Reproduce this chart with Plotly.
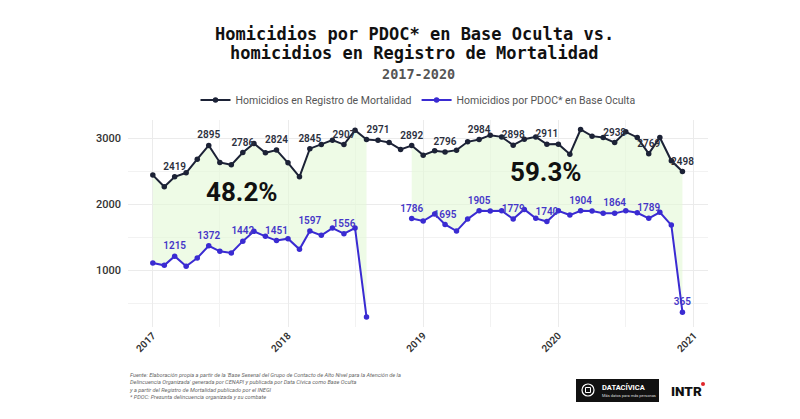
import plotly.graph_objects as go
import pandas as pd

# ---------------- data ----------------
months = pd.date_range("2017-01-01", "2020-12-01", freq="MS")

registro = [2444, 2267, 2419, 2479, 2686, 2895, 2636, 2600, 2786, 2924, 2782, 2824,
            2630, 2418, 2845, 2909, 2974, 2907, 3126, 2985, 2971, 2939, 2833, 2892,
            2747, 2812, 2796, 2823, 2949, 2984, 3050, 3024, 2898, 2989, 3024, 2911,
            2914, 2762, 3136, 3035, 3015, 2938, 3100, 3015, 2769, 3015, 2661, 2498]

base_oculta = [1111, 1076, 1215, 1061, 1186, 1372, 1288, 1262, 1442, 1591, 1515, 1451,
               1480, 1318, 1597, 1530, 1641, 1556, 1641, 290, None, None, None, 1786,
               1747, 1853, 1695, 1595, 1777, 1905, 1898, 1903, 1779, 1924, 1788, 1740,
               1903, 1838, 1904, 1898, 1864, 1864, 1903, 1873, 1789, 1879, 1686, 365]

registro_label_idx = [2, 5, 8, 11, 14, 17, 20, 23, 26, 29, 32, 35, 41, 44, 47]
oculta_label_idx = [2, 5, 8, 11, 14, 17, 23, 26, 29, 32, 35, 38, 41, 44, 47]

segments = [(0, 19), (23, 47)]
pct_labels = ["48.2%", "59.3%"]
pct_pos = [("2017-08-29", 2190), ("2019-11-28", 2494)]

year_ticks = ["2017-01-01", "2018-01-01", "2019-01-01", "2020-01-01", "2021-01-01"]
year_labels = ["2017", "2018", "2019", "2020", "2021"]

title_1 = "Homicidios por PDOC* en Base Oculta vs."
title_2 = "homicidios en Registro de Mortalidad"
subtitle = "2017-2020"
caption = ("Fuente: Elaboración propia a partir de la 'Base Sexenal del Grupo de Contacto de Alto Nivel para la Atención de la<br>"
           "Delincuencia Organizada' generada por CENAPI y publicada por Data Cívica como Base Oculta<br>"
           "y a partir del Registro de Mortalidad publicado por el INEGI<br>"
           "* PDOC: Presunta delincuencia organizada y su combate")

# ---------------- style ----------------
C_DARK = "#1c2236"
C_BLUE = "#3a2bd2"
C_BLUE_TXT = "#4536c8"
C_FILL = "rgba(226,248,214,0.6)"
FONT = "Roboto"
MONO = "DejaVu Sans Mono"

fig = go.Figure()

# shaded ribbons between the two series
for a, b in segments:
    xs = list(months[a:b + 1]) + list(months[a:b + 1])[::-1]
    ys = registro[a:b + 1] + base_oculta[a:b + 1][::-1]
    fig.add_trace(go.Scatter(x=xs, y=ys, fill="toself", fillcolor=C_FILL,
                             line=dict(width=0), mode="lines", showlegend=False,
                             hoverinfo="skip"))

reg_text = [str(v) if i in registro_label_idx else "" for i, v in enumerate(registro)]
ocu_text = [str(v) if (i in oculta_label_idx and v is not None) else "" for i, v in enumerate(base_oculta)]

fig.add_trace(go.Scatter(
    x=months, y=registro, name="Homicidios en Registro de Mortalidad",
    mode="lines+markers+text", text=reg_text, textposition="top center",
    textfont=dict(family=FONT, size=10, color="#2b2f3d", weight=600),
    line=dict(color=C_DARK, width=2), marker=dict(color=C_DARK, size=5.5),
    cliponaxis=False))

fig.add_trace(go.Scatter(
    x=months, y=base_oculta, name="Homicidios por PDOC* en Base Oculta",
    mode="lines+markers+text", text=ocu_text, textposition="top center",
    textfont=dict(family=FONT, size=10, color=C_BLUE_TXT, weight=600),
    line=dict(color=C_BLUE, width=2), marker=dict(color=C_BLUE, size=5.5),
    connectgaps=False, cliponaxis=False))

annotations = []
for txt, (xv, yv) in zip(pct_labels, pct_pos):
    annotations.append(dict(x=xv, y=yv, xref="x", yref="y", text=txt, showarrow=False,
                            xanchor="center", yanchor="middle",
                            font=dict(family=FONT, size=26, color="#111111", weight="bold")))

# pixel -> paper helpers (plot area: x 128..708, y 120..327)
L, R, T, B = 128, 708, 120, 327
def px(x):
    return (x - L) / (R - L)
def py(y):
    return (B - y) / (B - T)

def note(x, y, text, font, xanchor="center", yanchor="middle", **kw):
    return dict(x=px(x), y=py(y), xref="paper", yref="paper", text=text, showarrow=False,
                xanchor=xanchor, yanchor=yanchor, font=font, **kw)

annotations += [
    note(414, 34.5, title_1, dict(family=MONO, size=17, color="#111111", weight="bold")),
    note(414, 53.5, title_2, dict(family=MONO, size=17, color="#111111", weight="bold")),
    note(418, 74, subtitle, dict(family=MONO, size=13.5, color="#555555", weight="bold")),
    note(127, 370, caption, dict(family=FONT, size=5.6, color="#666666", style="italic"),
         xanchor="left", yanchor="top", align="left"),
    # DATACÍVICA logo text
    note(600, 387.5, "DATACÍVICA", dict(family=FONT, size=7.5, color="white", weight="bold"),
         xanchor="left"),
    note(600, 395, "Más datos para más personas", dict(family=FONT, size=4, color="#dddddd"),
         xanchor="left"),
    note(669, 390.5, "INTR", dict(family="Roboto", size=13.5, color="#111111",
                                  weight=900), xanchor="left"),
]

shapes = [
    dict(type="rect", xref="paper", yref="paper", x0=px(576), x1=px(659), y0=py(402), y1=py(379),
         fillcolor="#111111", line=dict(width=0)),
    dict(type="circle", xref="paper", yref="paper", x0=px(582), x1=px(594), y0=py(396), y1=py(384),
         line=dict(color="white", width=1.2)),
    dict(type="rect", xref="paper", yref="paper", x0=px(585.5), x1=px(590.5), y0=py(392.5), y1=py(387.5),
         line=dict(color="white", width=1)),
    dict(type="circle", xref="paper", yref="paper", x0=px(701), x1=px(705), y0=py(386), y1=py(382),
         fillcolor="#e0252b", line=dict(width=0)),
]

fig.update_layout(
    width=800, height=419,
    margin=dict(l=L, r=800 - R, t=T, b=419 - B, pad=0, autoexpand=False),
    paper_bgcolor="white", plot_bgcolor="white",
    font=dict(family=FONT, color="#333333"),
    showlegend=True,
    legend=dict(orientation="h", x=0.5, xanchor="center", y=py(100), yanchor="middle",
                font=dict(family=FONT, size=10.5, color="#555555"),
                itemwidth=30, tracegroupgap=0, bgcolor="rgba(0,0,0,0)"),
    annotations=annotations, shapes=shapes,
    xaxis=dict(type="date", range=["2016-10-26", "2021-02-08"], automargin=False,
               tickvals=year_ticks, ticktext=year_labels, tickangle=-45,
               showgrid=True, gridcolor="#ebebeb", gridwidth=1,
               minor=dict(tickvals=["2017-07-01", "2018-07-01", "2019-07-01", "2020-07-01"],
                          showgrid=True, gridcolor="#f2f2f2", gridwidth=1),
               zeroline=False, showline=False, ticks="",
               tickfont=dict(family=FONT, size=10, color="#333333", weight=600)),
    yaxis=dict(range=[140, 3280], tickvals=[1000, 2000, 3000], automargin=False,
               showgrid=True, gridcolor="#ebebeb", gridwidth=1,
               minor=dict(tickvals=[500, 1500, 2500], showgrid=True, gridcolor="#f2f2f2", gridwidth=1),
               zeroline=False, showline=False, ticks="", ticklabelstandoff=6,
               tickfont=dict(family=FONT, size=11, color="#333333", weight=500)),
)

fig.write_html("out.html", config={"displayModeBar": False},
               post_script="document.body.style.margin='0px';")
